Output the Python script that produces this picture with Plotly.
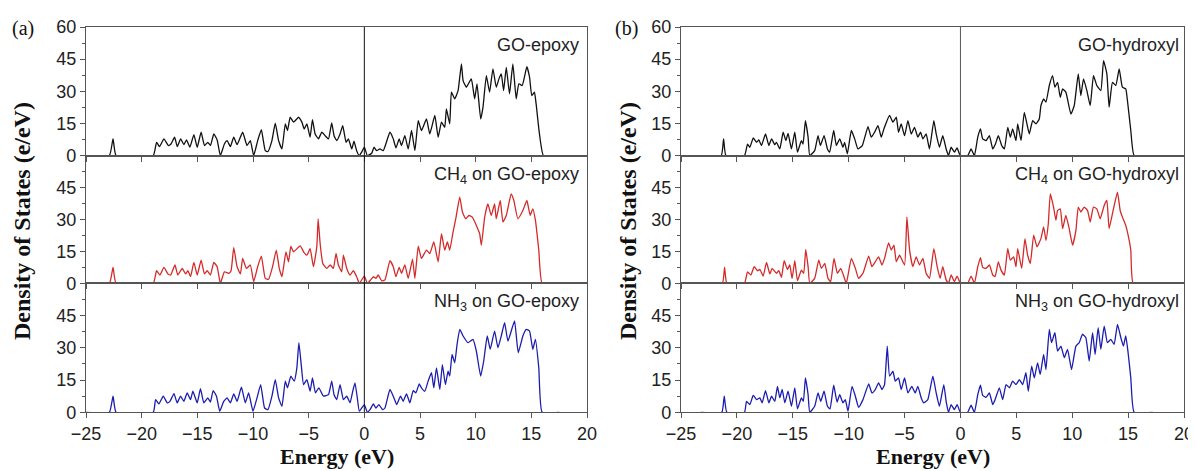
import plotly.graph_objects as go

# ---------------- data ----------------
x_ticks = [-25, -20, -15, -10, -5, 0, 5, 10, 15, 20]
y_ticks_top = [0, 15, 30, 45, 60]
y_ticks = [0, 15, 30, 45]

labels_a = ["GO-epoxy", "CH<sub>4</sub> on GO-epoxy", "NH<sub>3</sub> on GO-epoxy"]
labels_b = ["GO-hydroxyl", "CH<sub>4</sub> on GO-hydroxyl", "NH<sub>3</sub> on GO-hydroxyl"]

# (a) GO-epoxy
go_epoxy_e = [-25, -22.9, -22.57, -22.3, -18.96, -18.66, -18.4, -18.0, -17.6, -17.37, -17.04, -16.8, -16.5, -16.21,
              -15.97, -15.67, -15.31, -15.01, -14.66, -14.36, -14.06, -13.82, -13.52, -13.22, -12.93, -12.57, -12.33,
              -12.03, -11.73, -11.43, -10.93, -10.54, -10.24, -9.94, -9.58, -9.25, -8.9, -8.66, -8.3, -8.0, -7.7, -7.4,
              -7.1, -6.9, -6.66, -6.36, -5.91, -5.61, -5.4, -5.16, -4.87, -4.66, -4.42, -4.12, -3.82, -3.52, -3.22,
              -2.93, -2.72, -2.48, -2.18, -1.94, -1.64, -1.43, -1.13, -0.93, -0.69, -0.45, -0.24, 0.0, 0.27, 0.66,
              0.87, 1.1, 1.4, 1.7, 2.3, 2.6, 2.84, 3.13, 3.34, 3.64, 3.94, 4.24, 4.54, 4.84, 5.13, 5.58, 5.88, 6.33,
              6.63, 6.93, 7.22, 7.37, 7.67, 7.82, 8.12, 8.42, 8.72, 8.87, 9.16, 9.61, 9.91, 10.12, 10.45, 10.66,
              10.96, 11.25, 11.55, 11.85, 12.09, 12.3, 12.51, 12.75, 13.04, 13.34, 13.64, 13.88, 14.18, 14.6, 14.84,
              15.04, 15.28, 15.43, 15.73, 16.09, 17.5]
go_epoxy_dos = [0, 0, 7.8, 0, 0, 6.2, 4.2, 7.8, 4.7, 5.4, 8.6, 4.2, 7.8, 5.1,
                7.3, 3.9, 9.8, 3.9, 10.9, 4.7, 6.2, 4.7, 10.1, 7.3, 0, 5.4, 7.0,
                4.2, 8.6, 5.1, 10.9, 4.7, 7.0, 0, 7.0, 12.1, 2.3, 1.9, 7.0, 15.1, 7.0, 3.1,
                14.8, 11.7, 17.9, 15.6, 17.9, 15.6, 12.4, 14.8, 8.6, 16.8, 10.1, 7.8, 10.9, 9.3, 7.8,
                15.2, 9.3, 7.0, 10.1, 14.0, 6.2, 7.8, 3.1, 6.7, 2.3, 0, 1.6, 3.9, 0, 1.1,
                3.9, 2.3, 3.1, 2.3, 10.9, 7.8, 3.6, 7.8, 4.7, 9.3, 3.1, 11.7, 2.3, 16.3, 11.7, 17.1, 10.1, 18.7,
                8.6, 15.6, 13.2, 21.8, 14.8, 29.6, 26.5, 30.3, 42.8, 35.0, 31.9, 35.8, 26.5, 33.5, 17.1, 22.6,
                37.3, 29.6, 40.5, 31.9, 35.8, 38.1, 30.3, 41.2, 28.8, 42.8, 26.5, 33.5, 32.7, 41.5, 36.6,
                28.0, 29.6, 24.1, 10.1, 0, 0]

# (a) CH4 on GO-epoxy
ch4_epoxy_e = [-25, -22.9, -22.57, -22.3, -18.96, -18.66, -18.36, -18.0, -17.64, -17.4, -17.01, -16.75, -16.36, -16.06,
               -15.85, -15.61, -15.31, -15.01, -14.66, -14.36, -14.12, -13.82, -13.52, -13.22, -12.93, -12.57, -12.18,
               -11.97, -11.73, -11.43, -11.13, -10.93, -10.6, -10.24, -9.94, -9.58, -9.25, -8.9, -8.6, -8.24, -7.91,
               -7.64, -7.4, -7.04, -6.81, -6.6, -6.36, -5.76, -5.46, -5.16, -4.87, -4.57, -4.27, -4.15, -3.97, -3.73,
               -3.37, -3.07, -2.78, -2.54, -2.33, -2.03, -1.88, -1.58, -1.28, -0.99, -0.69, -0.45, 0.0, 0.27, 0.57,
               0.81, 1.04, 1.25, 1.55, 1.85, 2.3, 2.6, 2.84, 3.13, 3.34, 3.64, 3.94, 4.33, 4.54, 4.84, 5.13, 5.58,
               5.88, 6.24, 6.63, 6.93, 7.22, 7.46, 7.67, 7.97, 8.21, 8.57, 8.81, 9.1, 9.4, 9.7, 10.06, 10.36, 10.51,
               10.81, 11.1, 11.4, 11.7, 11.85, 12.21, 12.45, 12.75, 13.19, 13.43, 13.79, 14.24, 14.6, 14.9, 15.13,
               15.37, 15.67, 15.97, 17.5]
ch4_epoxy_dos = [0, 0, 7.5, 0, 0, 5.9, 3.9, 7.5, 4.4, 3.9, 8.6, 3.9, 7.0, 4.4,
                 5.9, 3.1, 9.8, 3.9, 10.9, 4.4, 5.9, 3.9, 9.8, 7.8, 0, 5.4, 4.7,
                 5.9, 16.8, 7.8, 4.4, 11.7, 7.0, 8.6, 0.8, 7.8, 12.8, 2.3, 1.9, 7.8, 15.6,
                 7.0, 3.1, 14.8, 10.1, 17.4, 14.8, 17.6, 14.8, 13.2, 16.3, 7.8, 17.1, 30.3, 18.7, 9.3,
                 7.0, 8.6, 7.0, 14.0, 8.6, 5.4, 13.2, 7.0, 3.9, 5.9, 3.1, 0, 3.4, 0, 1.6,
                 3.1, 2.3, 3.9, 1.2, 1.6, 10.6, 7.8, 3.1, 7.5, 4.7, 8.6, 2.3, 11.4, 2.3, 17.4, 11.7, 15.6,
                 14.0, 19.4, 10.1, 23.3, 15.6, 19.4, 15.6, 24.1, 30.3, 40.5, 33.5, 30.3, 31.9, 31.1, 27.2, 23.3, 17.9,
                 31.1, 37.3, 31.9, 37.3, 30.3, 38.9, 28.8, 31.9, 42.0, 38.9, 30.3, 34.2, 38.9, 31.9, 35.0,
                 29.6, 15.6, 0, 0]

# (a) NH3 on GO-epoxy
nh3_epoxy_e = [-25, -22.9, -22.57, -22.3, -18.96, -18.75, -18.45, -18.06, -17.7, -17.46, -17.1, -16.81, -16.51, -16.21,
               -15.91, -15.61, -15.4, -15.01, -14.72, -14.42, -14.06, -13.82, -13.58, -13.28, -12.99, -12.63, -12.33,
               -12.03, -11.73, -11.43, -11.04, -10.69, -10.39, -10.0, -9.64, -9.31, -8.96, -8.66, -8.3, -8.0, -7.7,
               -7.4, -7.1, -6.9, -6.6, -6.3, -6.06, -5.88, -5.67, -5.46, -5.16, -4.87, -4.66, -4.39, -4.09, -3.67,
               -3.22, -2.93, -2.72, -2.48, -2.18, -1.88, -1.58, -1.28, -1.04, -0.84, -0.63, -0.45, 0.0, 0.27, 0.51,
               0.81, 1.04, 1.31, 1.64, 1.85, 2.3, 2.66, 2.9, 3.25, 3.49, 3.79, 4.09, 4.39, 4.63, 4.93, 5.13, 5.43,
               5.73, 6.03, 6.24, 6.48, 6.78, 7.01, 7.28, 7.52, 7.67, 7.88, 8.12, 8.33, 8.57, 8.87, 9.31, 9.76, 10.06,
               10.45, 10.72, 11.04, 11.31, 11.7, 12.0, 12.3, 12.6, 12.9, 13.49, 13.82, 14.24, 14.54, 14.84, 15.13,
               15.37, 15.67, 15.97, 17.5]
nh3_epoxy_dos = [0, 0, 7.5, 0, 0, 5.9, 3.9, 7.5, 4.4, 5.1, 8.7, 4.4, 7.5, 5.1,
                 9.0, 5.9, 9.8, 4.4, 11.0, 4.4, 6.7, 4.8, 10.1, 7.5, 0.5, 5.1, 6.7,
                 4.4, 8.6, 5.1, 11.7, 4.4, 9.0, 0.5, 6.7, 12.9, 2.0, 1.2, 7.5, 15.2, 6.7,
                 2.8, 14.5, 11.4, 16.8, 14.5, 20.7, 32.4, 22.2, 12.9, 15.2, 9.8, 16.0, 9.0, 11.4, 7.5,
                 8.2, 14.5, 8.2, 5.9, 12.9, 5.9, 7.5, 4.4, 9.8, 13.7, 6.7, 0.5, 3.6, 0, 1.2,
                 3.9, 2.0, 3.6, 1.2, 2.0, 10.6, 6.7, 3.6, 7.5, 5.1, 8.6, 4.4, 10.1, 9.0, 13.2, 11.4, 9.8,
                 14.5, 18.4, 11.4, 20.7, 10.6, 22.2, 12.9, 19.1, 16.8, 26.9, 23.0, 31.6, 38.6, 35.5, 32.4, 33.9, 28.5,
                 16.8, 23.8, 35.5, 29.3, 37.8, 30.0, 35.5, 41.7, 33.1, 42.5, 27.7, 35.5, 38.6, 37.8, 29.3,
                 33.9, 20.7, 0, 0]

# (b) GO-hydroxyl
go_hydroxyl_e = [-23.2, -21.4, -21.19, -20.98, -19.32, -19.05, -18.84, -18.54, -18.24, -18.04, -17.8, -17.44, -17.14,
                 -16.9, -16.61, -16.46, -16.16, -15.86, -15.62, -15.42, -15.12, -14.82, -14.58, -14.23, -14.08, -13.87,
                 -13.63, -13.48, -13.04, -12.74, -12.53, -12.2, -11.9, -11.7, -11.34, -11.1, -10.8, -10.51, -10.36,
                 -10.12, -9.76, -9.46, -9.17, -8.78, -8.27, -7.98, -7.68, -7.38, -7.08, -6.85, -6.34, -6.04, -5.74,
                 -5.54, -5.3, -5.0, -4.7, -4.4, -4.11, -3.81, -3.57, -3.36, -3.07, -2.77, -2.38, -2.17, -1.88, -1.58,
                 -1.28, -1.07, -0.83, -0.54, -0.3, -0.09, 0.06, 0.65, 0.95, 1.25, 1.55, 1.79, 1.99, 2.29, 2.59, 2.89,
                 3.13, 3.39, 3.69, 3.93, 4.23, 4.46, 4.67, 4.97, 5.12, 5.42, 5.71, 5.95, 6.16, 6.46, 6.76, 7.05, 7.2,
                 7.44, 7.65, 7.95, 8.24, 8.45, 8.69, 8.93, 9.14, 9.43, 9.88, 10.18, 10.54, 10.77, 11.01, 11.31, 11.61,
                 11.9, 12.2, 12.56, 12.8, 13.1, 13.3, 13.6, 13.9, 14.2, 14.49, 14.79, 14.94, 15.24, 15.54, 17.2]
go_hydroxyl_dos = [0, 0, 7.8, 0, 0, 5.4, 3.9, 8.2, 6.2, 7.3, 4.7, 10.1, 4.7,
                   7.8, 5.1, 6.2, 3.1, 10.9, 7.0, 10.4, 3.1, 10.9, 1.6, 7.0, 5.4, 16.3,
                   8.6, 0, 2.3, 9.3, 4.7, 9.3, 3.1, 1.6, 11.7, 4.7, 7.8, 3.9, 6.2,
                   0.8, 11.7, 7.8, 3.1, 4.7, 13.5, 8.6, 10.9, 14.0, 8.6, 12.4, 18.7, 15.6, 17.9,
                   10.9, 14.8, 9.3, 16.3, 10.1, 13.2, 8.6, 10.9, 7.8, 10.1, 3.1, 16.3, 10.1, 3.9, 9.3,
                   3.1, 0, 3.9, 1.6, 3.6, 0.8, 0, 0, 3.1, 0, 8.6, 12.4, 7.8, 7.0, 9.3, 3.1,
                   5.4, 9.3, 4.7, 3.1, 13.2, 8.6, 12.4, 7.0, 14.8, 7.0, 20.2, 14.8, 10.1, 16.3, 14.8, 17.1, 23.3,
                   26.5, 24.9, 32.7, 37.3, 31.9, 34.2, 27.2, 31.1, 29.6, 19.4, 23.3, 38.1, 28.0, 35.8, 30.3, 23.3,
                   37.3, 32.7, 30.3, 44.3, 38.1, 22.6, 34.2, 32.7, 40.5, 31.9, 31.1, 25.7, 11.7, 0, 0]

# (b) CH4 on GO-hydroxyl
ch4_hydroxyl_e = [-23.2, -21.3, -21.1, -20.9, -19.32, -19.05, -18.75, -18.45, -18.15, -17.95, -17.65, -17.35, -17.05,
                  -16.85, -16.46, -16.25, -16.01, -15.77, -15.48, -15.27, -15.06, -14.82, -14.58, -14.23, -14.02, -13.84,
                  -13.63, -13.48, -13.04, -12.68, -12.44, -12.14, -11.85, -11.61, -11.31, -11.01, -10.71, -10.42, -10.21,
                  -9.76, -9.4, -9.11, -8.72, -8.21, -7.92, -7.62, -7.32, -7.02, -6.79, -6.43, -6.19, -5.95, -5.74,
                  -5.45, -5.0, -4.79, -4.55, -4.26, -3.96, -3.66, -3.36, -3.07, -2.77, -2.38, -2.08, -1.82, -1.58,
                  -1.28, -1.07, -0.83, -0.54, -0.3, 0.0, 0.65, 0.95, 1.25, 1.55, 1.79, 1.99, 2.29, 2.59, 2.89, 3.1,
                  3.39, 3.63, 3.93, 4.23, 4.46, 4.76, 4.97, 5.12, 5.48, 5.77, 6.01, 6.25, 6.55, 6.85, 7.2, 7.44, 7.65,
                  7.86, 8.04, 8.33, 8.54, 8.69, 8.93, 9.14, 9.43, 9.73, 10.03, 10.33, 10.54, 10.77, 11.07, 11.37, 11.61,
                  11.9, 12.2, 12.5, 12.86, 13.1, 13.3, 13.69, 14.05, 14.29, 14.49, 14.79, 15.0, 15.24, 15.45, 17.2]
ch4_hydroxyl_dos = [0, 0, 7.5, 0, 0, 5.4, 3.9, 7.8, 5.9, 6.5, 3.4, 9.8, 4.4,
                    7.0, 4.7, 5.9, 2.8, 10.6, 6.5, 8.6, 2.3, 10.6, 1.2, 6.2, 4.7, 15.9,
                    7.8, 0, 2.3, 10.9, 7.0, 9.3, 2.3, 0.8, 11.7, 4.7, 7.0, 3.1, 0,
                    11.7, 7.0, 2.3, 4.7, 12.8, 7.8, 10.1, 12.4, 8.6, 11.7, 19.0, 15.6, 17.9, 10.1,
                    13.2, 8.6, 31.1, 15.6, 7.8, 12.4, 8.6, 11.7, 4.7, 2.3, 16.3, 7.8, 2.3, 7.8,
                    1.6, 0, 3.9, 0.8, 3.4, 0, 0, 3.4, 0, 7.8, 12.1, 7.5, 7.0, 8.6, 3.9, 3.1,
                    10.1, 6.2, 3.9, 16.3, 10.9, 12.4, 7.8, 16.3, 7.0, 21.0, 13.2, 9.3, 22.6, 17.1, 21.0, 26.5, 20.2,
                    28.0, 42.0, 35.8, 29.6, 34.2, 35.0, 25.7, 31.9, 25.7, 17.9, 24.9, 35.8, 33.5, 35.8, 34.2, 28.8,
                    35.8, 35.0, 30.3, 36.6, 38.9, 25.7, 35.0, 42.8, 34.2, 31.1, 27.2, 22.6, 15.6, 0, 0]

# (b) NH3 on GO-hydroxyl
nh3_hydroxyl_e = [-23.2, -21.35, -21.13, -20.9, -19.32, -19.14, -18.84, -18.54, -18.24, -17.95, -17.74, -17.44, -17.14,
                  -16.9, -16.61, -16.37, -16.16, -15.95, -15.71, -15.42, -15.12, -14.82, -14.58, -14.23, -14.05, -13.87,
                  -13.63, -13.48, -13.04, -12.74, -12.5, -12.2, -11.9, -11.67, -11.34, -11.04, -10.8, -10.51, -10.3,
                  -10.06, -9.7, -9.4, -9.11, -8.72, -8.21, -7.92, -7.62, -7.32, -7.02, -6.79, -6.55, -6.34, -6.04,
                  -5.83, -5.54, -5.3, -5.0, -4.7, -4.35, -4.05, -3.81, -3.51, -3.27, -2.92, -2.47, -2.17, -1.88, -1.49,
                  -1.28, -1.07, -0.83, -0.54, -0.3, 0.0, 0.65, 0.95, 1.25, 1.55, 1.79, 1.99, 2.29, 2.59, 2.89, 3.1,
                  3.48, 3.78, 4.08, 4.38, 4.67, 4.97, 5.27, 5.57, 5.86, 6.07, 6.37, 6.61, 6.9, 7.14, 7.44, 7.65, 7.95,
                  8.15, 8.45, 8.69, 8.99, 9.29, 9.58, 9.94, 10.33, 10.63, 10.92, 11.22, 11.52, 11.82, 12.05, 12.32,
                  12.56, 12.86, 13.15, 13.45, 13.75, 14.05, 14.35, 14.58, 14.79, 15.0, 15.24, 15.54, 17.2]
nh3_hydroxyl_dos = [0, 0, 7.5, 0, 0, 5.1, 3.6, 7.9, 5.9, 6.7, 4.4, 10.1, 4.4,
                    7.5, 5.1, 12.1, 6.7, 10.6, 4.4, 9.8, 2.8, 11.4, 1.6, 6.7, 5.1, 16.0,
                    8.2, 0, 2.8, 9.0, 5.1, 9.8, 2.8, 1.6, 12.6, 4.8, 8.2, 4.4, 5.9,
                    0.5, 12.1, 7.5, 2.3, 5.9, 13.2, 9.0, 10.6, 13.7, 10.6, 12.9, 30.8, 16.8, 19.1,
                    14.5, 16.0, 10.6, 16.0, 9.0, 12.1, 9.0, 12.1, 6.7, 4.4, 5.9, 16.8, 9.0, 2.8, 12.9,
                    5.1, 0, 3.6, 1.2, 3.6, 0, 0, 3.3, 0, 8.2, 12.6, 7.9, 7.0, 9.0, 3.6, 5.9,
                    11.4, 5.9, 12.9, 11.4, 14.5, 12.9, 15.2, 12.9, 18.4, 9.8, 21.5, 16.0, 23.0, 17.6, 26.9, 19.9, 38.6,
                    32.4, 37.0, 28.5, 30.8, 25.4, 29.3, 19.9, 30.8, 32.4, 36.3, 34.7, 23.8, 37.0, 26.9, 39.4,
                    29.3, 40.1, 32.4, 33.9, 31.6, 40.9, 34.7, 30.8, 35.5, 27.7, 16.0, 0, 0]

series = [
    (go_epoxy_e, go_epoxy_dos, "#111111", 1),
    (ch4_epoxy_e, ch4_epoxy_dos, "#d42a2a", 2),
    (nh3_epoxy_e, nh3_epoxy_dos, "#1c1cb0", 3),
    (go_hydroxyl_e, go_hydroxyl_dos, "#111111", 4),
    (ch4_hydroxyl_e, ch4_hydroxyl_dos, "#d42a2a", 5),
    (nh3_hydroxyl_e, nh3_hydroxyl_dos, "#1c1cb0", 6),
]

# ---------------- layout ----------------
# The page body adds an 8 px offset; the figure is sized so it ends at the window edge.
OFF = 8
W, H = 1196 - OFF, 471 - OFF


def px_x(p):
    return (p - OFF) / W


def px_y(p):
    return 1 - (p - OFF) / H


col_dom = [(px_x(86), px_x(587)), (px_x(681), px_x(1184))]
row_px = [(27, 155.6), (155.6, 283.3), (283.3, 412.3)]
row_dom = [(px_y(b), px_y(t)) for (t, b) in row_px]

sans = "Arial, Liberation Sans, sans-serif"
serif = "Times New Roman, Liberation Serif, serif"
axcol = "#555555"

fig = go.Figure()
for ex, dos, color, k in series:
    fig.add_trace(go.Scatter(
        x=ex, y=dos, mode="lines",
        line=dict(color=color, width=1.3, shape="spline", smoothing=0.4),
        xaxis="x" if k == 1 else f"x{k}", yaxis="y" if k == 1 else f"y{k}",
        showlegend=False, hoverinfo="skip"))

layout = dict(width=W, height=H, margin=dict(l=0, r=0, t=0, b=0, pad=0, autoexpand=False),
              autosize=False, plot_bgcolor="white", paper_bgcolor="white", showlegend=False)
annotations = []
shapes = []
for c in range(2):
    for r in range(3):
        k = c * 3 + r + 1
        xn = "xaxis" if k == 1 else f"xaxis{k}"
        yn = "yaxis" if k == 1 else f"yaxis{k}"
        xa = "x" if k == 1 else f"x{k}"
        ya = "y" if k == 1 else f"y{k}"
        layout[xn] = dict(domain=list(col_dom[c]), range=[-25, 20], anchor=ya, automargin=False,
                          showline=True, mirror=True, linecolor=axcol, linewidth=1.3,
                          ticks="outside", ticklen=5, tickcolor=axcol, tickwidth=1,
                          tickvals=x_ticks, showticklabels=(r == 2),
                          tickfont=dict(family=sans, size=18, color="#222"),
                          showgrid=False, zeroline=False)
        layout[yn] = dict(domain=list(row_dom[r]), range=[0, 60], anchor=xa, automargin=False,
                          showline=True, mirror=True, linecolor=axcol, linewidth=1.3,
                          ticks="outside", ticklen=5, tickcolor=axcol, tickwidth=1,
                          tickvals=y_ticks_top if r == 0 else y_ticks,
                          minor=dict(ticks="outside", ticklen=3, tickcolor=axcol,
                                     tickvals=[7.5, 22.5, 37.5, 52.5]),
                          tickfont=dict(family=sans, size=18, color="#222"),
                          showgrid=False, zeroline=False)
        lab = (labels_a if c == 0 else labels_b)[r]
        annotations.append(dict(text=lab, xref=f"{xa} domain", yref=f"{ya} domain",
                                x=1, y=1, xanchor="right", yanchor="top",
                                xshift=-6 if c == 0 else -3, yshift=-6, showarrow=False,
                                font=dict(family=sans, size=18, color="#222")))
    # zero-energy line spanning the three panels
    shapes.append(dict(type="line", xref="x" if c == 0 else "x4", yref="paper",
                       x0=0, x1=0, y0=row_dom[2][0], y1=row_dom[0][1],
                       line=dict(color="#111" if c == 0 else "#555", width=1)))
    cx = (col_dom[c][0] + col_dom[c][1]) / 2
    annotations.append(dict(text="<b>Energy (eV)</b>", xref="paper", yref="paper",
                            x=cx, y=px_y(456), xanchor="center", yanchor="middle",
                            showarrow=False, font=dict(family=serif, size=22, color="#111")))
    annotations.append(dict(text="<b>Density of States (e/eV)</b>", xref="paper", yref="paper",
                            x=px_x(22 if c == 0 else 628), y=px_y(221), textangle=-90,
                            xanchor="center", yanchor="middle", showarrow=False,
                            font=dict(family=serif, size=24, color="#111")))
    annotations.append(dict(text="(a)" if c == 0 else "(b)", xref="paper", yref="paper",
                            x=px_x(23 if c == 0 else 626), y=px_y(28),
                            xanchor="center", yanchor="middle", showarrow=False,
                            font=dict(family=serif, size=20, color="#111")))

layout["annotations"] = annotations
layout["shapes"] = shapes
fig.update_layout(**layout)
fig.write_html("out.html", post_script="document.body.style.overflow='hidden';")
